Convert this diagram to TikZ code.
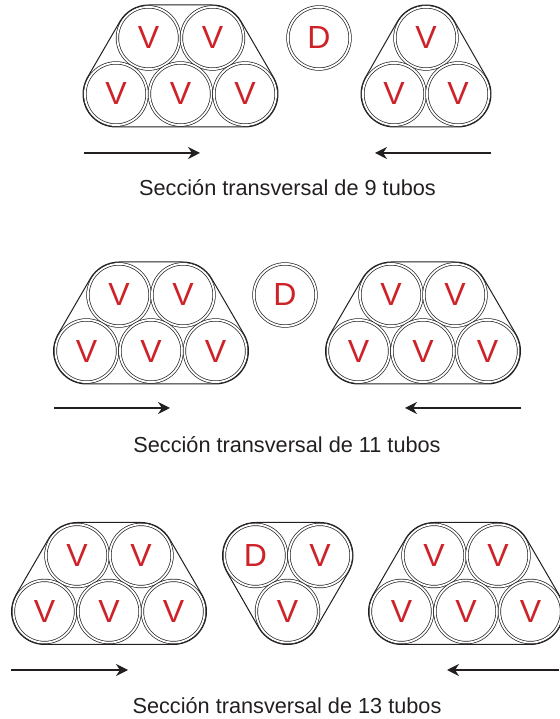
\documentclass[tikz,border=0pt]{standalone}
\usepackage{fontspec}
\setmainfont{Liberation Sans}
\usetikzlibrary{arrows.meta}
\definecolor{rojotubo}{HTML}{CE2229}
\definecolor{negrotubo}{HTML}{231F20}
\tikzset{
    tubo/.style={circle,draw=negrotubo,line width=0.7pt,double,double distance=1.8pt,minimum size=62.2pt,
        inner sep=0pt,outer sep=1.9pt,text=rojotubo,font=\fontsize{32}{32}\selectfont},
    envolvente/.style={draw=negrotubo,line width=1pt},
    flecha/.style={draw=negrotubo,line width=1.2pt,-{Stealth[length=12pt,width=12pt]}},
    titulo/.style={text=negrotubo,font=\fontsize{21.7}{24}\selectfont}
}
% banco de cinco tubos: prefijo, centro de la fila inferior
\newcommand{\bancocinco}[3]{
    \node[tubo] (#1a) at (#2-32,#3+56) {V};
    \node[tubo] (#1b) at (#2+32,#3+56) {V};
    \node[tubo] (#1c) at (#2-64.5,#3) {V};
    \node[tubo] (#1d) at (#2,#3) {V};
    \node[tubo] (#1e) at (#2+64.5,#3) {V};
    \draw[envolvente] (#1a.150) arc[start angle=150,end angle=90,radius=33] -- (#1b.90)
        arc[start angle=90,end angle=30,radius=33] -- (#1e.30)
        arc[start angle=30,end angle=-90,radius=33] -- (#1c.-90)
        arc[start angle=-90,end angle=-210,radius=33] -- cycle;
}
\begin{document}
\begin{tikzpicture}[x=1pt,y=1pt]
    \useasboundingbox (0,0) rectangle (559,719);
    % 9 tubos
    \bancocinco{p}{180.5}{625}
    \node[tubo] (pdren) at (319,681) {D};
    \node[tubo] (qa) at (426,681) {V};
    \node[tubo] (qb) at (394,625) {V};
    \node[tubo] (qc) at (458,625) {V};
    \draw[envolvente] (qa.150) arc[start angle=150,end angle=30,radius=33] -- (qc.30)
        arc[start angle=30,end angle=-90,radius=33] -- (qb.-90)
        arc[start angle=-90,end angle=-210,radius=33] -- cycle;
    \coordinate (f1a) at (84,566);
    \coordinate (f1b) at (200,566);
    \coordinate (f1c) at (491,566);
    \coordinate (f1d) at (375,566);
    \draw[flecha] (f1a) -- (f1b);
    \draw[flecha] (f1c) -- (f1d);
    \node[titulo] (tit1) at (287.5,531) {Sección transversal de 9 tubos};
    % 11 tubos
    \bancocinco{r}{151}{368}
    \node[tubo] (rdren) at (285,424) {D};
    \bancocinco{s}{423}{368}
    \coordinate (f2a) at (54,311);
    \coordinate (f2b) at (170,311);
    \coordinate (f2c) at (521,311);
    \coordinate (f2d) at (405,311);
    \draw[flecha] (f2a) -- (f2b);
    \draw[flecha] (f2c) -- (f2d);
    \node[titulo] (tit2) at (287,274) {Sección transversal de 11 tubos};
    % 13 tubos
    \bancocinco{t}{109}{107.5}
    \node[tubo] (udren) at (255.5,163.5) {D};
    \node[tubo] (ua) at (320,163.5) {V};
    \node[tubo] (ub) at (287.5,107.5) {V};
    \draw[envolvente] (udren.90) -- (ua.90) arc[start angle=90,end angle=-30,radius=33] -- (ub.-30)
        arc[start angle=-30,end angle=-150,radius=33] -- (udren.-150)
        arc[start angle=-150,end angle=-270,radius=33] -- cycle;
    \bancocinco{w}{466}{107.5}
    \coordinate (f3a) at (11,49);
    \coordinate (f3b) at (128,49);
    \coordinate (f3c) at (559,49);
    \coordinate (f3d) at (447,49);
    \draw[flecha] (f3a) -- (f3b);
    \draw[flecha] (f3c) -- (f3d);
    \node[titulo] (tit3) at (287,13.5) {Sección transversal de 13 tubos};
\end{tikzpicture}
\end{document}
